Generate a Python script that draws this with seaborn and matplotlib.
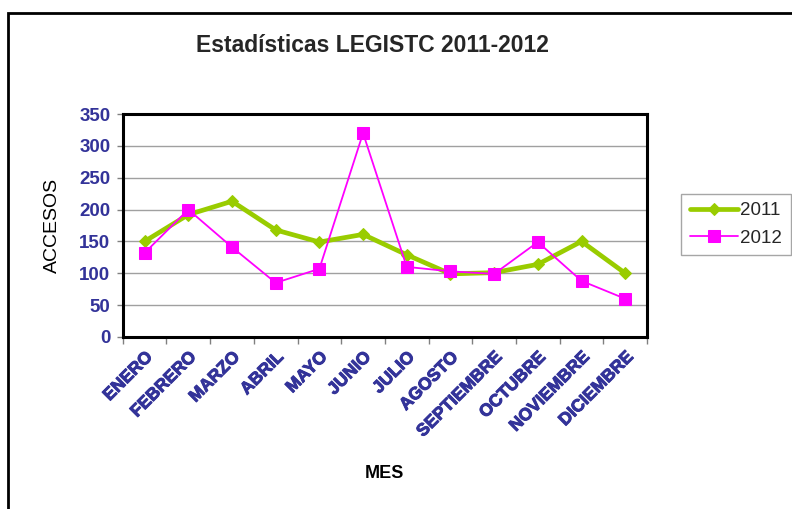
import seaborn as sns
import matplotlib.pyplot as plt
import matplotlib.patches as patches
import matplotlib.patheffects as pe
import numpy as np
import pandas as pd

meses = ['ENERO', 'FEBRERO', 'MARZO', 'ABRIL', 'MAYO', 'JUNIO', 'JULIO',
         'AGOSTO', 'SEPTIEMBRE', 'OCTUBRE', 'NOVIEMBRE', 'DICIEMBRE']
accesos_2011 = [150, 192, 213, 168, 149, 161, 129, 99, 101, 114, 150, 100]
accesos_2012 = [132, 200, 141, 85, 107, 320, 110, 103, 99, 149, 88, 60]
y_ticks = [0, 50, 100, 150, 200, 250, 300, 350]

sns.set_theme(style='white')
plt.rcParams['font.family'] = ['Liberation Sans', 'DejaVu Sans']

df = pd.DataFrame({'mes': np.arange(len(meses)),
                   '2011': accesos_2011, '2012': accesos_2012})

fig = plt.figure(figsize=(7.92, 5.09), dpi=100)
ax = fig.add_axes([0.155, 0.338, 0.662, 0.438])

sns.lineplot(data=df, x='mes', y='2011', ax=ax, color='#99CC00', linewidth=3.4,
             marker='D', markersize=6.5, markeredgecolor='#99CC00', label='2011')
sns.lineplot(data=df, x='mes', y='2012', ax=ax, color='#FF00FF', linewidth=1.3,
             marker='s', markersize=8.5, markeredgecolor='#FF00FF', label='2012')

ax.set_xlim(-0.5, len(meses) - 0.5)
ax.set_ylim(0, 350)
ax.set_yticks(y_ticks)
ax.yaxis.grid(True, color='#A0A0A0', linewidth=1)
ax.set_axisbelow(True)

# etiquetas de mes centradas, marcas en los limites de cada categoria
ax.set_xticks(np.arange(len(meses)))
ax.set_xticklabels(meses, rotation=45, ha='right', rotation_mode='anchor',
                   fontweight='bold', fontsize=12.5, color='#333399')
ax.set_xticks(np.arange(-0.5, len(meses)), minor=True)
ax.tick_params(axis='x', which='major', length=0, pad=9)
ax.tick_params(axis='x', which='minor', length=5, width=1, color='#808080',
               direction='out', bottom=True)
ax.tick_params(axis='y', length=4, width=1, color='#808080', direction='out',
               left=True, pad=5)

thick = [pe.withStroke(linewidth=0.7, foreground='#333399')]
for lbl in ax.get_xticklabels():
    lbl.set_path_effects(thick)
for lbl in ax.get_yticklabels():
    lbl.set_color('#333399')
    lbl.set_fontweight('bold')
    lbl.set_fontsize(13.5)

for s in ax.spines.values():
    s.set_visible(True)
    s.set_color('black')
    s.set_linewidth(2.2)

ax.set_xlabel('MES', fontsize=13, fontweight='bold', color='black')
ax.set_ylabel('ACCESOS', fontsize=14, color='black')
ax.xaxis.set_label_coords(0.5, -0.575)
ax.yaxis.set_label_coords(-0.118, 0.5)

fig.text(0.47, 0.91, 'Estadísticas LEGISTC 2011-2012', ha='center', va='center',
         fontsize=16.5, fontweight='bold')

leg = ax.legend(loc='center left', bbox_to_anchor=(1.065, 0.505), frameon=True,
                fancybox=False, edgecolor='#909090', fontsize=13.5,
                borderaxespad=0, handlelength=2.6, borderpad=0.45,
                labelspacing=0.55, handletextpad=0.1)
leg.get_frame().set_linewidth(1)

fig.patches.append(patches.Rectangle((8 / 792, -0.1), 1.2, 1 - 13 / 509 + 0.1,
                                     transform=fig.transFigure, fill=False,
                                     edgecolor='black', linewidth=2, clip_on=False))

fig.savefig('out.png', dpi=100)
